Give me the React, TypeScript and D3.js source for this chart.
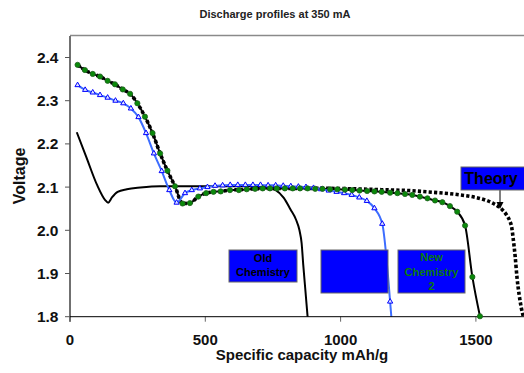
import React from 'react';
import * as d3 from 'd3';

const chartTitle = 'Discharge profiles at 350 mA';
const xAxisTitle = 'Specific capacity mAh/g';
const yAxisTitle = 'Voltage';
const xTicks = [0, 500, 1000, 1500];
const yTicks = [1.8, 1.9, 2.0, 2.1, 2.2, 2.3, 2.4];

// Old Chemistry (black solid line)
const oldCap = [25, 60, 100, 130, 141, 155, 176, 210, 260, 333, 500, 650, 720, 760, 790, 815, 835, 848, 856, 862, 870, 878, 882];
const oldV = [2.227, 2.17, 2.105, 2.07, 2.064, 2.076, 2.089, 2.095, 2.099, 2.102, 2.102, 2.102, 2.1, 2.093, 2.075, 2.048, 2.025, 2.0, 1.97, 1.92, 1.86, 1.8, 1.77];

// Middle label series (blue line, triangle markers)
const blueCap = [28, 56, 84, 111, 139, 168, 197, 225, 253, 281, 310, 339, 367, 394, 425, 450, 480, 508, 536, 564, 592, 620, 648, 676, 704, 732, 760, 788, 816, 844, 872, 900, 928, 956, 985, 1013, 1041, 1069, 1097, 1125, 1154, 1183];
const blueV = [2.336, 2.325, 2.319, 2.313, 2.307, 2.3, 2.294, 2.282, 2.262, 2.225, 2.178, 2.137, 2.093, 2.064, 2.086, 2.093, 2.097, 2.1, 2.103, 2.104, 2.105, 2.105, 2.105, 2.105, 2.105, 2.104, 2.104, 2.103, 2.102, 2.101, 2.1, 2.098, 2.095, 2.092, 2.089, 2.086, 2.082, 2.076, 2.068, 2.051, 2.015, 1.835];

// New Chemistry 2 (black line, green circle markers)
const newCap = [28, 55, 84, 111, 139, 166, 195, 222, 249, 277, 305, 333, 360, 388, 416, 443, 474, 503, 530, 557, 591, 624, 653, 684, 712, 739, 764, 794, 823, 850, 878, 906, 933, 961, 988, 1016, 1043, 1070, 1098, 1125, 1152, 1183, 1210, 1238, 1265, 1293, 1321, 1349, 1376, 1404, 1431, 1460, 1487, 1515];
const newV = [2.383, 2.371, 2.362, 2.356, 2.346, 2.338, 2.326, 2.316, 2.294, 2.263, 2.225, 2.178, 2.138, 2.102, 2.062, 2.063, 2.078, 2.086, 2.089, 2.09, 2.093, 2.093, 2.095, 2.096, 2.097, 2.097, 2.097, 2.097, 2.097, 2.097, 2.097, 2.096, 2.096, 2.095, 2.095, 2.094, 2.093, 2.092, 2.091, 2.09, 2.089, 2.087, 2.086, 2.084, 2.082, 2.078, 2.074, 2.069, 2.065, 2.056, 2.043, 2.011, 1.892, 1.801];

// Theory (black dotted thick line)
const theoryCap = [28, 55, 84, 111, 139, 166, 195, 222, 249, 277, 305, 333, 360, 388, 416, 443, 474, 503, 530, 557, 591, 624, 684, 739, 850, 950, 1050, 1150, 1250, 1342, 1441, 1500, 1540, 1565, 1583, 1600, 1614, 1625, 1632, 1638, 1645, 1652, 1660, 1668, 1675, 1680];
const theoryV = [2.383, 2.371, 2.362, 2.356, 2.346, 2.338, 2.326, 2.316, 2.294, 2.263, 2.225, 2.178, 2.138, 2.102, 2.062, 2.063, 2.078, 2.086, 2.089, 2.09, 2.093, 2.094, 2.096, 2.097, 2.097, 2.097, 2.096, 2.094, 2.092, 2.088, 2.082, 2.076, 2.069, 2.062, 2.055, 2.046, 2.035, 2.022, 2.008, 1.98, 1.94, 1.89, 1.85, 1.82, 1.8, 1.78];

const labelOld = ['Old', 'Chemistry'];
const labelNew = ['New', 'Chemistry', '2'];
const labelTheory = 'Theory';

const FONT = '"Liberation Sans", Arial, sans-serif';

export default function App() {
  const W = 524, H = 373;
  const x = d3.scaleLinear().domain([0, 1700]).range([70, 70 + 1700 * 0.2706]);
  const y = d3.scaleLinear().domain([1.8, 2.45]).range([316.7, 35.9]);
  const [x0, x1] = x.range();
  const [yb, yt] = y.range();

  const mk = (cap: number[], v: number[]) => cap.map((c, i) => [c, v[i]] as [number, number]);
  const line = d3.line<[number, number]>().x(d => x(d[0])).y(d => y(d[1])).curve(d3.curveMonotoneX);

  const oldD = mk(oldCap, oldV);
  const blueD = mk(blueCap, blueV).concat([[1190, 1.78]]);
  const blueM = mk(blueCap, blueV);
  const newD = mk(newCap, newV);
  const thD = mk(theoryCap, theoryV);
  const tri = d3.symbol().type(d3.symbolTriangle).size(12)();

  return (
    <svg width={W} height={H} style={{ position: 'absolute', left: 0, top: 0, background: '#fff' }} fontFamily={FONT}>
      <defs>
        <clipPath id="plot"><rect x={x0} y={yt} width={x1 - x0} height={yb - yt} /></clipPath>
      </defs>
      <text x={275} y={17.7} textAnchor="middle" fontSize={11} fontWeight="bold" fill="#222">{chartTitle}</text>
      {/* top border */}
      <line x1={x0} x2={x1} y1={yt - 0.4} y2={yt - 0.4} stroke="#8a8a8a" strokeWidth={1.6} />
      {/* y axis */}
      <line x1={x0} x2={x0} y1={yt} y2={yb + 5} stroke="#707070" strokeWidth={2} />
      {yTicks.map(t => (
        <g key={t}>
          <line x1={x0 - 5} x2={x0} y1={y(t)} y2={y(t)} stroke="#555" strokeWidth={1} />
          <text x={58.5} y={y(t)} dy="0.36em" textAnchor="end" fontSize={15.5} fontWeight="bold" fill="#111">{t.toFixed(1)}</text>
        </g>
      ))}
      {xTicks.map(t => (
        <g key={t}>
          <line x1={x(t)} x2={x(t)} y1={yb} y2={yb + 5} stroke="#666" strokeWidth={1} />
          <text x={x(t)} y={344.8} textAnchor="middle" fontSize={15} fontWeight="bold" fill="#111">{t}</text>
        </g>
      ))}
      <text x={302} y={360} textAnchor="middle" fontSize={15} fontWeight="bold" fill="#111">{xAxisTitle}</text>
      <text transform={`translate(25,176) rotate(-90)`} textAnchor="middle" fontSize={16} fontWeight="bold" fill="#111">{yAxisTitle}</text>

      <g clipPath="url(#plot)" fill="none">
        <path d={line(oldD) || ''} stroke="#000" strokeWidth={2} />
        <path d={line(thD) || ''} stroke="#000" strokeWidth={3.6} strokeDasharray="3.2 2.2" />
        <path d={line(newD) || ''} stroke="#000" strokeWidth={2} />
        <path d={line(blueD) || ''} stroke="#3d6dff" strokeWidth={2} />
      </g>
      {/* x axis on top of clipped lines */}
      <line x1={x0} x2={x1} y1={yb} y2={yb} stroke="#000" strokeWidth={1} />
      {blueM.map((d, i) => (
        <path key={'b' + i} d={tri || ''} transform={`translate(${x(d[0])},${y(d[1])})`} fill="#dfe6ff" stroke="#0000ff" strokeWidth={1} />
      ))}
      {newD.map((d, i) => (
        <circle key={'g' + i} cx={x(d[0])} cy={y(d[1])} r={2.6} fill="#0a8a0a" stroke="#1f5f1f" strokeWidth={0.8} />
      ))}

      {/* Labels */}
      <rect x={229} y={250} width={68} height={32} fill="#0000ff" stroke="#666" strokeWidth={1} />
      {labelOld.map((s, i) => (
        <text key={s} x={263} y={261.5 + i * 14.4} textAnchor="middle" fontSize={11} fontWeight="bold" fill="#000">{s}</text>
      ))}
      <rect x={321} y={250} width={67} height={43} fill="#0000ff" stroke="#666" strokeWidth={1} />
      <rect x={398} y={250} width={67} height={43} fill="#0000ff" stroke="#666" strokeWidth={1} />
      {labelNew.map((s, i) => (
        <text key={s} x={431.5} y={261 + i * 14.5} textAnchor="middle" fontSize={11} fontWeight="bold" fill="#0a7a0a">{s}</text>
      ))}
      <line x1={500} x2={500} y1={190} y2={203} stroke="#000" strokeWidth={1} />
      <path d="M496.5,202 L503.5,202 L500,209 Z" fill="#000" />
      <rect x={461} y={167} width={70} height={23} fill="#0000ff" stroke="#666" strokeWidth={1} />
      <text x={491} y={184} textAnchor="middle" fontSize={16} fontWeight="bold" fill="#000">{labelTheory}</text>
    </svg>
  );
}
